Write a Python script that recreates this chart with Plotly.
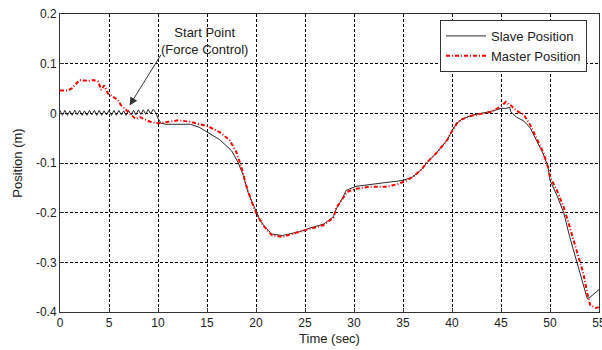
import plotly.graph_objects as go

# ---- data ----
slave_t = [0, 0.25, 0.5, 0.75, 1.0, 1.25, 1.5, 1.75, 2.0, 2.25, 2.5, 2.75, 3.0, 3.25, 3.5, 3.75,
           4.0, 4.25, 4.5, 4.75, 5.0, 5.25, 5.5, 5.75, 6.0, 6.25, 6.5, 6.75, 7.0, 7.25, 7.5, 7.75,
           8.0, 8.25, 8.5, 8.75, 9.0, 9.25, 9.5, 9.75,
           10.0, 10.3, 10.8, 12.0, 13.3, 14.2, 15.0, 16.3, 17.5, 18.2, 18.7, 19.2, 19.9, 20.4, 20.8,
           21.6, 22.7, 24.5, 25.5, 26.9, 27.9, 28.2, 28.9, 29.2, 30.2, 32.2, 33.2, 34.4, 35.0, 36.0,
           36.9, 37.4, 38.4, 39.5, 40.0, 40.5, 41.0, 42.0, 43.0, 44.0, 45.0, 45.5, 45.9, 46.0, 46.6,
           47.3, 48.0, 48.6, 49.3, 49.8, 50.0, 50.7, 51.4, 52.0, 52.7, 53.4, 53.8, 54.1, 54.7, 55.0]
slave_y = [0.006, -0.004, 0.006, -0.004, 0.005, -0.004, 0.006, -0.003, 0.006, -0.004, 0.005, -0.004,
           0.006, -0.003, 0.006, -0.004, 0.006, -0.004, 0.005, -0.003, 0.006, -0.004, 0.006, -0.004,
           0.006, -0.003, 0.005, -0.004, 0.006, -0.003, 0.006, -0.003, 0.007, -0.002, 0.007, -0.002,
           0.008, -0.001, 0.008, 0.002,
           -0.010, -0.020, -0.022, -0.022, -0.022, -0.028, -0.038, -0.053, -0.075, -0.100, -0.125,
           -0.160, -0.192, -0.215, -0.226, -0.243, -0.246, -0.238, -0.231, -0.223, -0.208, -0.192,
           -0.168, -0.155, -0.147, -0.142, -0.141, -0.138, -0.135, -0.128, -0.113, -0.100, -0.080,
           -0.054, -0.035, -0.020, -0.012, -0.004, 0.000, 0.004, 0.010, 0.010, 0.012, 0.003, -0.008,
           -0.015, -0.030, -0.054, -0.081, -0.108, -0.135, -0.165, -0.200, -0.248, -0.295, -0.342,
           -0.373, -0.370, -0.360, -0.355]

master_t = [0, 0.8, 1.2, 1.7, 2.0, 2.5, 2.9, 3.4, 3.9, 4.2, 4.5, 4.9, 5.4, 5.9, 6.2, 6.7, 7.2, 7.7,
            8.2, 8.6, 9.2, 10.0, 10.8, 11.2, 12.1, 12.5, 13.3, 14.3, 15.1, 16.3, 17.3, 18.0, 18.5,
            19.0, 19.5, 20.0, 20.7, 21.6, 22.7, 24.0, 25.5, 26.9, 27.9, 28.2, 28.9, 29.3, 30.2,
            31.5, 33.2, 34.4, 35.2, 36.0, 36.9, 37.4, 38.4, 39.5, 40.0, 40.5, 41.0, 42.0, 43.0,
            44.0, 45.0, 45.5, 45.8, 46.0, 46.6, 47.3, 48.0, 48.6, 49.3, 49.8, 50.0, 50.7, 51.4,
            52.0, 52.7, 53.4, 53.8, 54.1, 54.7, 55.0]
master_y = [0.046, 0.046, 0.050, 0.060, 0.067, 0.066, 0.065, 0.067, 0.064, 0.047, 0.056, 0.040,
            0.033, 0.027, 0.017, 0.007, -0.003, -0.011, -0.008, -0.011, -0.017, -0.020, -0.018,
            -0.016, -0.014, -0.015, -0.017, -0.022, -0.026, -0.038, -0.054, -0.078, -0.108, -0.145,
            -0.175, -0.200, -0.225, -0.245, -0.249, -0.241, -0.233, -0.225, -0.210, -0.190, -0.170,
            -0.158, -0.152, -0.148, -0.148, -0.143, -0.137, -0.128, -0.113, -0.100, -0.080, -0.054,
            -0.036, -0.020, -0.012, -0.005, -0.001, 0.003, 0.014, 0.023, 0.018, 0.016, 0.005,
            -0.002, -0.024, -0.048, -0.078, -0.108, -0.128, -0.155, -0.189, -0.228, -0.276, -0.322,
            -0.362, -0.386, -0.392, -0.390]

x_ticks = [0, 5, 10, 15, 20, 25, 30, 35, 40, 45, 50, 55]
y_ticks = [-0.4, -0.3, -0.2, -0.1, 0, 0.1, 0.2]
y_tick_labels = ["-0.4", "-0.3", "-0.2", "-0.1", "0", "0.1", "0.2"]

font = "Liberation Sans, Arial, sans-serif"
txt = "#222222"

fig = go.Figure()
fig.add_trace(go.Scatter(x=slave_t, y=slave_y, mode="lines", name="Slave Position",
                         line=dict(color="#2a2a2a", width=1)))
fig.add_trace(go.Scatter(x=master_t, y=master_y, mode="lines", name="Master Position",
                         line=dict(color="#ff0000", width=2, dash="4px,2px,1px,2px")))

fig.add_annotation(x=7.1, y=0.016, ax=10.4, ay=0.121, axref="x", ayref="y", xref="x", yref="y",
                   text="", showarrow=True, arrowhead=2, arrowsize=1.6, arrowwidth=1,
                   arrowcolor="#333333")
fig.add_annotation(x=14.7, y=0.146, xref="x", yref="y", text="Start Point<br>(Force Control)",
                   showarrow=False, font=dict(family=font, size=13, color=txt))

axis_common = dict(showline=True, linecolor="#333333", linewidth=1, mirror=True,
                   showgrid=True, gridcolor="#000000", gridwidth=1, griddash="3px,2px",
                   zeroline=False, ticks="inside", ticklen=4, tickcolor="#333333",
                   automargin=False, ticklabeloverflow="allow",
                   tickfont=dict(family=font, size=12, color=txt))

fig.update_xaxes(range=[0, 55], tickvals=x_ticks, ticktext=[str(v) for v in x_ticks],
                 title=dict(text="Time (sec)", font=dict(family=font, size=13, color=txt),
                            standoff=4), **axis_common)
fig.update_yaxes(range=[-0.4, 0.2], tickvals=y_ticks, ticktext=y_tick_labels,
                 title=dict(text="Position (m)", font=dict(family=font, size=13, color=txt),
                            standoff=10), **axis_common)

fig.update_layout(
    width=602, height=350,
    margin=dict(l=60, r=3, t=14, b=38, autoexpand=False),
    paper_bgcolor="white", plot_bgcolor="white",
    font=dict(family=font, size=12, color=txt),
    legend=dict(x=0.705, y=0.98, xanchor="left", yanchor="top",
                bgcolor="white", bordercolor="#333333", borderwidth=1,
                font=dict(family=font, size=13, color=txt),
                tracegroupgap=0, itemwidth=40),
    showlegend=True,
)

fig.write_html("out.html", config={"displayModeBar": False},
               post_script="document.body.style.margin='0px';document.body.style.overflow='hidden';")
